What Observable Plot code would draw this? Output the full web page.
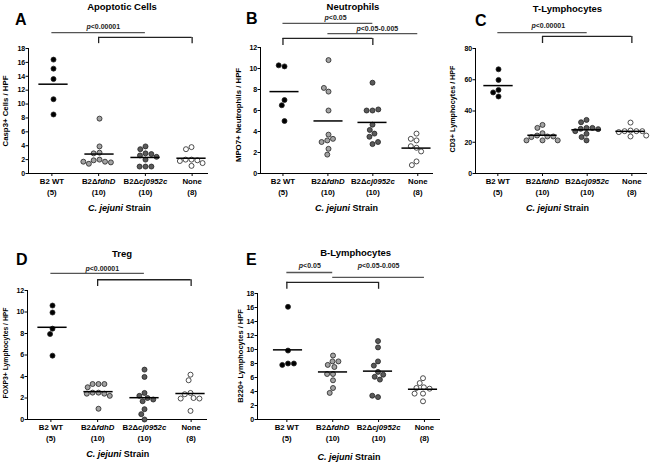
<!DOCTYPE html>
<html><head><meta charset="utf-8">
<script src="https://cdn.jsdelivr.net/npm/d3@7"></script>
<script src="https://cdn.jsdelivr.net/npm/@observablehq/plot@0.6"></script>
<style>
body{margin:0;background:#fff;font-family:"Liberation Sans",Arial,sans-serif;color:#000;}
#fig{position:relative;width:662px;height:463px;overflow:hidden;background:#fff;}
.panel{position:absolute;}
.panel svg{position:absolute;left:0;top:0;}
.letter{position:absolute;font-weight:bold;font-size:16px;line-height:16px;}
.title{position:absolute;width:200px;text-align:center;font-weight:bold;font-size:9.5px;line-height:10px;white-space:nowrap;}
.xtitle{position:absolute;width:200px;text-align:center;font-weight:bold;font-size:9px;line-height:10px;white-space:nowrap;}
.ylabel{position:absolute;font-weight:bold;line-height:10px;white-space:nowrap;transform:translate(-50%,-50%) rotate(-90deg);}
</style></head><body><div id="fig"></div>
<script>
// ---------- categories ----------
const categories = ["B2 WT", "B2ΔfdhD", "B2Δcj0952c", "None"];
const groupFills = ["#000000", "#a3a3a3", "#5a5a5a", "#ffffff"];

// ---------- A: Apoptotic cells ----------
const apoptoticWT   = [16.4, 15.1, 13.6, 10.7, 8.5];
const apoptoticFdhD = [7.9, 3.9, 3.0, 2.9, 2.0, 1.9, 1.7, 1.4, 1.6, 1.7];
const apoptoticCj   = [3.9, 3.5, 2.9, 2.8, 2.6, 2.4, 2.0, 1.0, 1.0, 1.0];
const apoptoticNone = [3.8, 3.5, 2.0, 2.0, 1.9, 1.8, 1.5, 1.1];
const apoptoticTicks = [0, 2, 4, 6, 8, 10, 12, 14, 16, 18];
const apoptoticBrackets = [{from: 0, to: 2, y: 20.3, drop: null}, {from: 1, to: 3, y: 19.6, drop: 18.7}];
const apoptoticP = [{x: 1.1, y: 21.2, text: "p<0.00001"}];

// ---------- B: Neutrophils ----------
const neutroWT   = [10.2, 10.3, 7.0, 6.5, 5.0];
const neutroFdhD = [10.8, 7.8, 8.15, 6.0, 3.7, 3.15, 3.3, 3.0, 2.35, 1.8];
const neutroCj   = [8.65, 6.0, 6.0, 6.1, 4.65, 4.15, 3.8, 3.5, 2.8, 3.0];
const neutroNone = [3.8, 3.15, 3.3, 2.45, 2.6, 2.1, 1.15, 0.8];
const neutroTicks = [0, 2, 4, 6, 8, 10, 12];
const neutroBrackets = [{from: 0, to: 2, y: 14.3, drop: null}, {from: 1, to: 3, y: 13.33, drop: null}, {from: 0, to: 2, y: 12.86, drop: 12.2}];
const neutroP = [{x: 1.17, y: 14.86, text: "p<0.05"}, {x: 2.1, y: 13.8, text: "p<0.05-0.005"}];

// ---------- C: T-Lymphocytes ----------
const tcellWT   = [66.7, 59.9, 53.5, 51.9, 49.3];
const tcellFdhD = [31.1, 29.2, 25.8, 24.3, 23.7, 23.7, 23.3, 21.2, 21.2, 21.2];
const tcellCj   = [34.3, 32.8, 29.2, 29.2, 28.6, 28.4, 27.1, 25.4, 23.3, 21.2];
const tcellNone = [32.6, 27.5, 27.1, 27.1, 27.1, 26.5, 24.3, 23.7];
const tcellTicks = [0, 20, 40, 60, 80];
const tcellBrackets = [{from: 0, to: 2, y: 90.2, drop: null}, {from: 1, to: 3, y: 87.7, drop: 83.2}];
const tcellP = [{x: 1.13, y: 94.7, text: "p<0.00001"}];

// ---------- D: Treg ----------
const tregWT   = [10.6, 9.95, 8.45, 7.95, 5.94];
const tregFdhD = [3.3, 3.3, 3.3, 3.0, 2.5, 2.5, 2.4, 2.4, 2.2, 1.0];
const tregCj   = [4.64, 3.96, 2.47, 2.2, 2.0, 1.86, 1.7, 0.96, 0.5, 0.0];
const tregNone = [4.17, 3.65, 2.47, 2.35, 2.0, 1.95, 1.95, 0.8];
const tregTicks = [0, 2, 4, 6, 8, 10, 12];
const tregBrackets = [{from: 0, to: 2, y: 13.6, drop: null}, {from: 1, to: 3, y: 13.0, drop: 12.37}];
const tregP = [{x: 1.1, y: 14.05, text: "p<0.00001"}];

// ---------- E: B-Lymphocytes ----------
const bcellWT   = [16.1, 9.85, 8.0, 7.8, 8.0];
const bcellFdhD = [9.14, 8.3, 8.3, 7.8, 7.5, 6.5, 6.5, 5.6, 4.5, 3.8];
const bcellCj   = [11.2, 10.3, 8.3, 7.7, 6.8, 6.1, 6.4, 5.7, 3.2, 3.4];
const bcellNone = [5.9, 5.2, 4.6, 4.5, 4.4, 3.7, 3.7, 2.6];
const bcellTicks = [0, 2, 4, 6, 8, 10, 12, 14, 16, 18];
const bcellBrackets = [{from: 0, to: 1, y: 21.0, drop: null}, {from: 1, to: 3, y: 20.3, drop: null}, {from: 0, to: 2, y: 19.6, drop: 18.6}];
const bcellP = [{x: 0.5, y: 21.9, text: "p<0.05"}, {x: 2.0, y: 21.9, text: "p<0.05-0.005"}];

const panels = [
  {letter: "A", title: "Apoptotic Cells", yLabel: "Casp3+ Cells / HPF", values: [apoptoticWT, apoptoticFdhD, apoptoticCj, apoptoticNone],
   yDomain: [0, 18], yTicks: apoptoticTicks, brackets: apoptoticBrackets, pLabels: apoptoticP,
   L: {left: 0, top: 0, width: 220, height: 230, ml: 28, mr: 12, mt: 48, mb: 57, xLo: -0.5, xHi: 3.35,
       letter: [15, 12], title: [122, 7], xTitle: [119.5, 208], yLab: [6, 111, 7.8]}},
  {letter: "B", title: "Neutrophils", yLabel: "MPO7+ Neutrophils / HPF", values: [neutroWT, neutroFdhD, neutroCj, neutroNone],
   yDomain: [0, 12], yTicks: neutroTicks, brackets: neutroBrackets, pLabels: neutroP,
   L: {left: 220, top: 0, width: 220, height: 230, ml: 40, mr: 7, mt: 47, mb: 57, xLo: -0.5, xHi: 3.35,
       letter: [26, 11], title: [133, 7], xTitle: [126.5, 208], yLab: [19, 115, 7.8]}},
  {letter: "C", title: "T-Lymphocytes", yLabel: "CD3+ Lymphocytes / HPF", values: [tcellWT, tcellFdhD, tcellCj, tcellNone],
   yDomain: [0, 80], yTicks: tcellTicks, brackets: tcellBrackets, pLabels: tcellP,
   L: {left: 440, top: 0, width: 222, height: 230, ml: 35, mr: 15, mt: 48, mb: 57, xLo: -0.5, xHi: 3.35,
       letter: [35, 13], title: [127.5, 9], xTitle: [117.5, 208], yLab: [12.7, 109, 7.2]}},
  {letter: "D", title: "Treg", yLabel: "FOXP3+ Lymphocytes / HPF", values: [tregWT, tregFdhD, tregCj, tregNone],
   yDomain: [0, 12], yTicks: tregTicks, brackets: tregBrackets, pLabels: tregP,
   L: {left: 0, top: 230, width: 220, height: 233, ml: 27, mr: 13, mt: 60, mb: 44, xLo: -0.5, xHi: 3.35,
       letter: [16, 22], title: [122, 24], xTitle: [117.7, 223.5], yLab: [5.8, 122.5, 6.8]}},
  {letter: "E", title: "B-Lymphocytes", yLabel: "B220+ Lymphocytes / HPF", values: [bcellWT, bcellFdhD, bcellCj, bcellNone],
   yDomain: [0, 18], yTicks: bcellTicks, brackets: bcellBrackets, pLabels: bcellP,
   L: {left: 220, top: 230, width: 230, height: 233, ml: 37, mr: 10, mt: 63, mb: 44, xLo: -0.64, xHi: 3.35,
       letter: [26, 22], title: [135.7, 22.7], xTitle: [129, 226.7], yLab: [20.7, 125.8, 7.5]}}
];

const FONT = '"Liberation Sans", Arial, sans-serif';
const SVGNS = "http://www.w3.org/2000/svg";

function italicize(root) {
  const patterns = [/fdhD/, /cj0952c/, /^p(?=<)/];
  const walker = document.createTreeWalker(root, NodeFilter.SHOW_TEXT);
  const nodes = [];
  while (walker.nextNode()) nodes.push(walker.currentNode);
  for (const node of nodes) {
    if (!node.parentNode || node.parentNode.nodeName.toLowerCase() === "style") continue;
    for (const re of patterns) {
      const m = node.nodeValue.match(re);
      if (!m) continue;
      const parent = node.parentNode;
      const t = document.createElementNS(SVGNS, "tspan");
      t.setAttribute("font-style", "italic");
      t.textContent = m[0];
      parent.insertBefore(document.createTextNode(node.nodeValue.slice(0, m.index)), node);
      parent.insertBefore(t, node);
      parent.insertBefore(document.createTextNode(node.nodeValue.slice(m.index + m[0].length)), node);
      parent.removeChild(node);
      break;
    }
  }
}

const fig = document.getElementById("fig");
for (const p of panels) {
  const L = p.L;
  const div = document.createElement("div");
  div.className = "panel";
  Object.assign(div.style, {left: L.left + "px", top: L.top + "px", width: L.width + "px", height: L.height + "px"});
  fig.appendChild(div);

  const rows = p.values.flatMap((arr, gi) => arr.map(v => ({group: categories[gi], gi, value: v})));
  const counts = p.values.map(a => a.length);
  const drops = p.brackets.filter(d => d.drop != null).flatMap(d => [{x: d.from, y: d.y, drop: d.drop}, {x: d.to, y: d.y, drop: d.drop}]);
  const plain = p.brackets.filter(d => d.drop == null);
  const framed = p.brackets.filter(d => d.drop != null);

  const base = Plot.plot({
    width: L.width, height: L.height,
    marginLeft: L.ml, marginRight: L.mr, marginTop: L.mt, marginBottom: L.mb,
    style: {background: "transparent", overflow: "visible", fontFamily: FONT, maxWidth: "none"},
    x: {domain: [L.xLo, L.xHi]},
    y: {domain: p.yDomain},
    marks: [
      Plot.axisY({ticks: p.yTicks, tickSize: 2.5, tickPadding: 0.8, fontSize: 7, fontWeight: "bold", label: null}),
      Plot.axisX({ticks: [0, 1, 2, 3], tickFormat: i => categories[i], tickSize: 3, tickPadding: 2.2, fontSize: 7.8, fontWeight: "bold", label: null}),
      Plot.axisX({ticks: [0, 1, 2, 3], tickFormat: i => "(" + counts[i] + ")", tickSize: 0, tickPadding: 16.2, fontSize: 7.8, fontWeight: "bold", label: null}),
      Plot.ruleX([L.xLo], {stroke: "#000", strokeWidth: 1}),
      Plot.ruleY([0], {stroke: "#000", strokeWidth: 1}),
      Plot.ruleY(plain, {x1: "from", x2: "to", y: "y", stroke: "#555", strokeWidth: 1.3}),
      Plot.ruleY(framed, {x1: "from", x2: "to", y: "y", stroke: "#222", strokeWidth: 1.3}),
      Plot.ruleX(drops, {x: "x", y1: "y", y2: "drop", stroke: "#222", strokeWidth: 1.3}),
      Plot.text(p.pLabels, {x: "x", y: "y", text: "text", fontSize: 7, fontWeight: "bold", fill: "#222"})
    ]
  });
  italicize(base);
  div.appendChild(base);

  const step = (L.width - L.ml - L.mr) / (L.xHi - L.xLo);
  const mlD = L.ml + (-0.5 - L.xLo) * step;
  const rightD = L.ml + (3.5 - L.xLo) * step;
  const WD = Math.ceil(rightD) + 2;
  const inset = (step - 30) / 2;

  const dots = Plot.plot({
    width: WD, height: L.height,
    marginLeft: mlD, marginRight: WD - rightD, marginTop: L.mt, marginBottom: L.mb,
    style: {background: "transparent", overflow: "visible", fontFamily: FONT, maxWidth: "none"},
    fx: {domain: categories, paddingInner: 0, paddingOuter: 0, axis: null, label: null},
    x: {axis: null},
    y: {domain: p.yDomain, axis: null},
    marks: [
      Plot.dot(rows, Plot.dodgeX({anchor: "middle", padding: 0.9}, {
        fx: "group", y: "value", r: 2.5, fill: d => groupFills[d.gi], stroke: "#222", strokeWidth: 0.8
      })),
      Plot.ruleY(rows, Plot.groupZ({y: "mean"}, {fx: "group", y: "value", stroke: "#000", strokeWidth: 1.5, insetLeft: inset, insetRight: inset}))
    ]
  });
  div.appendChild(dots);

  const letter = document.createElement("div");
  letter.className = "letter";
  letter.textContent = p.letter;
  Object.assign(letter.style, {left: L.letter[0] + "px", top: L.letter[1] + "px"});
  div.appendChild(letter);

  const title = document.createElement("div");
  title.className = "title";
  title.textContent = p.title;
  Object.assign(title.style, {left: (L.title[0] - 100) + "px", top: (L.title[1] - 5) + "px"});
  div.appendChild(title);

  const xt = document.createElement("div");
  xt.className = "xtitle";
  xt.innerHTML = "<i>C. jejuni</i> Strain";
  Object.assign(xt.style, {left: (L.xTitle[0] - 100) + "px", top: (L.xTitle[1] - 5) + "px"});
  div.appendChild(xt);

  const yl = document.createElement("div");
  yl.className = "ylabel";
  yl.textContent = p.yLabel;
  Object.assign(yl.style, {left: L.yLab[0] + "px", top: L.yLab[1] + "px", fontSize: L.yLab[2] + "px"});
  div.appendChild(yl);
}
</script></body></html>
